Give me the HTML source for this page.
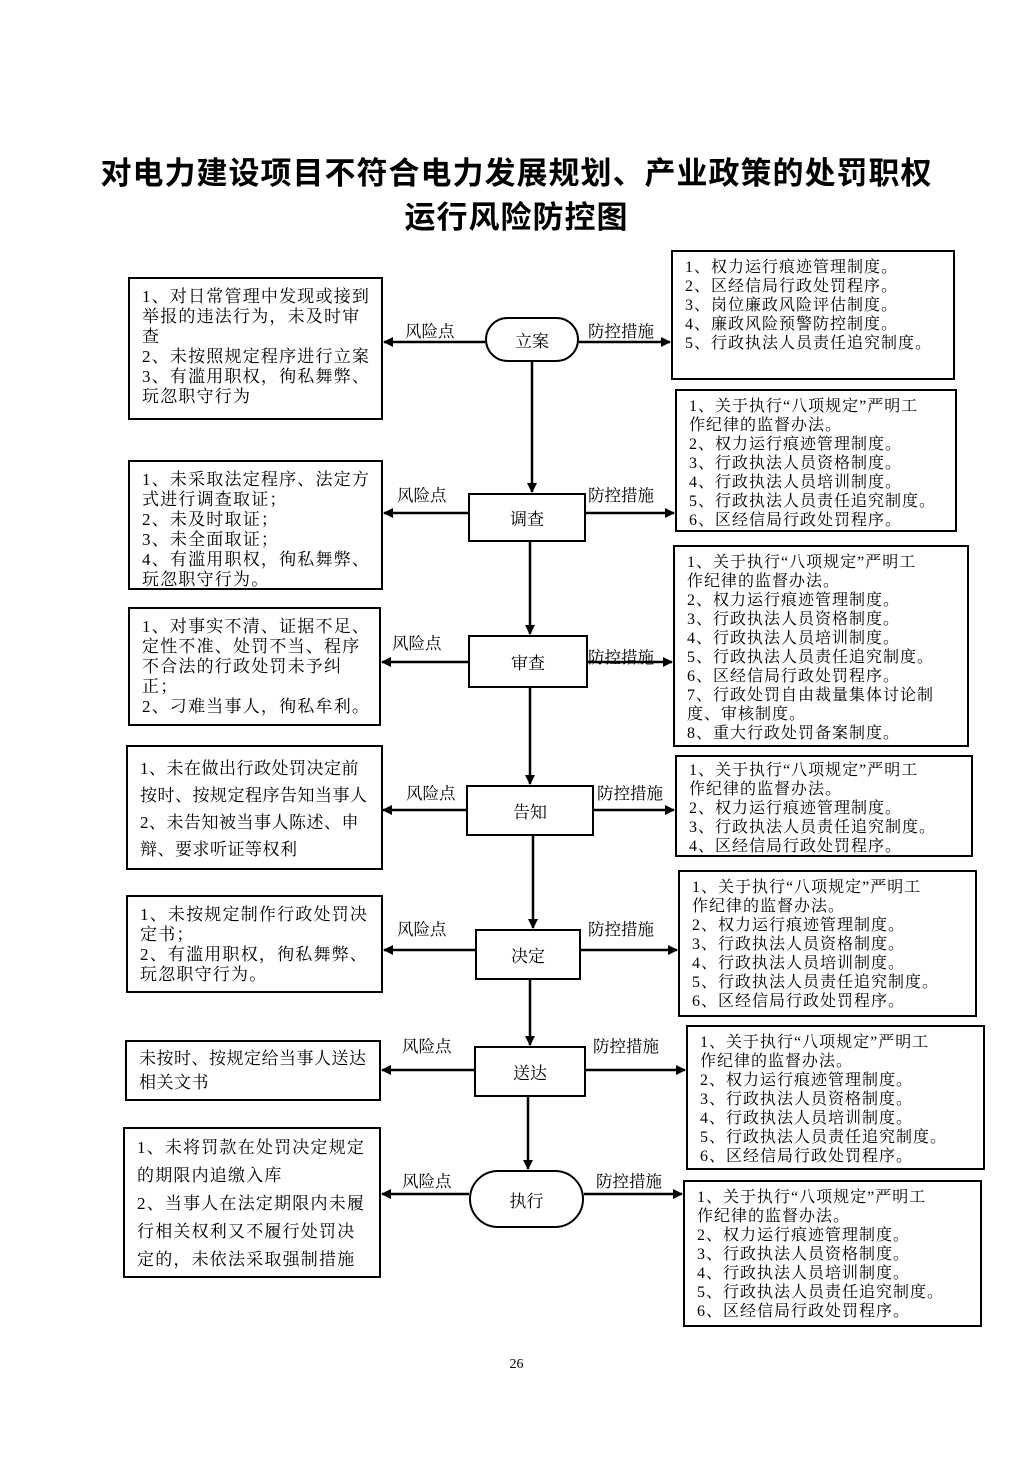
<!DOCTYPE html>
<html><head><meta charset="utf-8"><style>
body{margin:0;background:#fff;}
#p{position:relative;width:1033px;height:1461px;overflow:hidden;font-family:"Liberation Serif","Noto Serif CJK SC","Noto Sans CJK SC",serif;color:#000;}
.t{position:absolute;left:0;width:1033px;text-align:center;font-family:"Liberation Sans","Noto Sans CJK SC",sans-serif;font-weight:bold;font-size:31px;letter-spacing:1px;}
.b{position:absolute;border:2px solid #000;box-sizing:border-box;font-size:16px;line-height:19px;padding:6px 12px;white-space:nowrap;letter-spacing:1px;}
.l{font-size:17px;padding:8px 12px;letter-spacing:1.2px;}
.lb{position:absolute;font-size:16.5px;white-space:nowrap;}
.n{position:absolute;border:2px solid #000;box-sizing:border-box;display:flex;align-items:center;justify-content:center;font-size:17px;background:#fff;}
</style></head><body><div id="p">
<div class="t" style="top:148px">对电力建设项目不符合电力发展规划、产业政策的处罚职权</div>
<div class="t" style="top:192px">运行风险防控图</div>
<svg width="1033" height="1461" style="position:absolute;left:0;top:0">
<defs><marker id="a" markerWidth="10" markerHeight="10" refX="9" refY="5" orient="auto" markerUnits="userSpaceOnUse"><path d="M0,0L10,5L0,10z"/></marker></defs>
<g stroke="#000" stroke-width="2.5" marker-end="url(#a)">
<line x1="532" y1="362" x2="532" y2="492"/>
<line x1="530" y1="542" x2="530" y2="634"/>
<line x1="530" y1="688" x2="530" y2="784"/>
<line x1="533" y1="836" x2="533" y2="928"/>
<line x1="530" y1="980" x2="530" y2="1045"/>
<line x1="528" y1="1097" x2="528" y2="1169"/>
<line x1="485" y1="342" x2="384" y2="342"/><line x1="579" y1="342" x2="670" y2="342"/>
<line x1="468" y1="513" x2="384" y2="513"/><line x1="586" y1="513" x2="674" y2="513"/>
<line x1="468" y1="662" x2="382" y2="662"/><line x1="588" y1="662" x2="672" y2="662"/>
<line x1="466" y1="810" x2="383" y2="810"/><line x1="594" y1="810" x2="674" y2="810"/>
<line x1="475" y1="950" x2="384" y2="950"/><line x1="581" y1="950" x2="677" y2="950"/>
<line x1="474" y1="1070" x2="382" y2="1070"/><line x1="586" y1="1070" x2="685" y2="1070"/>
<line x1="469" y1="1194" x2="382" y2="1194"/><line x1="584" y1="1194" x2="682" y2="1194"/>
</g></svg>
<div class="n" style="left:485px;top:317px;width:94px;height:45px;border-radius:23px">立案</div>
<div class="n" style="left:468px;top:493px;width:118px;height:49px">调查</div>
<div class="n" style="left:468px;top:635px;width:120px;height:53px">审查</div>
<div class="n" style="left:466px;top:785px;width:128px;height:51px">告知</div>
<div class="n" style="left:475px;top:929px;width:106px;height:51px">决定</div>
<div class="n" style="left:474px;top:1046px;width:112px;height:51px">送达</div>
<div class="n" style="left:469px;top:1170px;width:115px;height:58px;border-radius:29px">执行</div>
<div class="lb" style="left:405px;top:318px">风险点</div><div class="lb" style="left:588px;top:318px">防控措施</div>
<div class="lb" style="left:397px;top:482px">风险点</div><div class="lb" style="left:588px;top:482px">防控措施</div>
<div class="lb" style="left:392px;top:630px">风险点</div><div class="lb" style="left:588px;top:644px">防控措施</div>
<div class="lb" style="left:406px;top:780px">风险点</div><div class="lb" style="left:597px;top:780px">防控措施</div>
<div class="lb" style="left:397px;top:916px">风险点</div><div class="lb" style="left:588px;top:916px">防控措施</div>
<div class="lb" style="left:402px;top:1033px">风险点</div><div class="lb" style="left:593px;top:1033px">防控措施</div>
<div class="lb" style="left:402px;top:1168px">风险点</div><div class="lb" style="left:596px;top:1168px">防控措施</div>

<div class="b l" style="left:128px;top:277px;width:255px;height:143px;line-height:20px">1、对日常管理中发现或接到<br>举报的违法行为，未及时审<br>查<br>2、未按照规定程序进行立案<br>3、有滥用职权，徇私舞弊、<br>玩忽职守行为</div>
<div class="b l" style="left:128px;top:460px;width:255px;height:130px;line-height:20px">1、未采取法定程序、法定方<br>式进行调查取证；<br>2、未及时取证；<br>3、未全面取证；<br>4、有滥用职权，徇私舞弊、<br>玩忽职守行为。</div>
<div class="b l" style="left:128px;top:607px;width:253px;height:119px;line-height:20px">1、对事实不清、证据不足、<br>定性不准、处罚不当、程序<br>不合法的行政处罚未予纠<br>正；<br>2、刁难当事人，徇私牟利。</div>
<div class="b l" style="left:126px;top:745px;width:257px;height:125px;line-height:27px;letter-spacing:0.5px">1、未在做出行政处罚决定前<br>按时、按规定程序告知当事人<br>2、未告知被当事人陈述、申<br>辩、要求听证等权利</div>
<div class="b l" style="left:126px;top:895px;width:257px;height:98px;line-height:20px">1、未按规定制作行政处罚决<br>定书；<br>2、有滥用职权，徇私舞弊、<br>玩忽职守行为。</div>
<div class="b l" style="left:125px;top:1040px;width:256px;height:61px;line-height:24px;padding-top:5px;letter-spacing:0.5px">未按时、按规定给当事人送达<br>相关文书</div>
<div class="b l" style="left:123px;top:1127px;width:258px;height:151px;line-height:28px;padding-top:5px">1、未将罚款在处罚决定规定<br>的期限内追缴入库<br>2、当事人在法定期限内未履<br>行相关权利又不履行处罚决<br>定的，未依法采取强制措施</div>

<div class="b" style="left:671px;top:250px;width:284px;height:130px">1、权力运行痕迹管理制度。<br>2、区经信局行政处罚程序。<br>3、岗位廉政风险评估制度。<br>4、廉政风险预警防控制度。<br>5、行政执法人员责任追究制度。</div>
<div class="b" style="left:675px;top:389px;width:282px;height:143px">1、关于执行“八项规定”严明工<br>作纪律的监督办法。<br>2、权力运行痕迹管理制度。<br>3、行政执法人员资格制度。<br>4、行政执法人员培训制度。<br>5、行政执法人员责任追究制度。<br>6、区经信局行政处罚程序。</div>
<div class="b" style="left:673px;top:545px;width:296px;height:202px">1、关于执行“八项规定”严明工<br>作纪律的监督办法。<br>2、权力运行痕迹管理制度。<br>3、行政执法人员资格制度。<br>4、行政执法人员培训制度。<br>5、行政执法人员责任追究制度。<br>6、区经信局行政处罚程序。<br>7、行政处罚自由裁量集体讨论制<br>度、审核制度。<br>8、重大行政处罚备案制度。</div>
<div class="b" style="left:675px;top:755px;width:298px;height:102px;padding-top:4px">1、关于执行“八项规定”严明工<br>作纪律的监督办法。<br>2、权力运行痕迹管理制度。<br>3、行政执法人员责任追究制度。<br>4、区经信局行政处罚程序。</div>
<div class="b" style="left:678px;top:870px;width:299px;height:147px">1、关于执行“八项规定”严明工<br>作纪律的监督办法。<br>2、权力运行痕迹管理制度。<br>3、行政执法人员资格制度。<br>4、行政执法人员培训制度。<br>5、行政执法人员责任追究制度。<br>6、区经信局行政处罚程序。</div>
<div class="b" style="left:686px;top:1025px;width:299px;height:145px">1、关于执行“八项规定”严明工<br>作纪律的监督办法。<br>2、权力运行痕迹管理制度。<br>3、行政执法人员资格制度。<br>4、行政执法人员培训制度。<br>5、行政执法人员责任追究制度。<br>6、区经信局行政处罚程序。</div>
<div class="b" style="left:683px;top:1180px;width:299px;height:147px">1、关于执行“八项规定”严明工<br>作纪律的监督办法。<br>2、权力运行痕迹管理制度。<br>3、行政执法人员资格制度。<br>4、行政执法人员培训制度。<br>5、行政执法人员责任追究制度。<br>6、区经信局行政处罚程序。</div>
<div style="position:absolute;left:0;width:1033px;top:1357px;text-align:center;font-size:14px">26</div>
</div></body></html>
